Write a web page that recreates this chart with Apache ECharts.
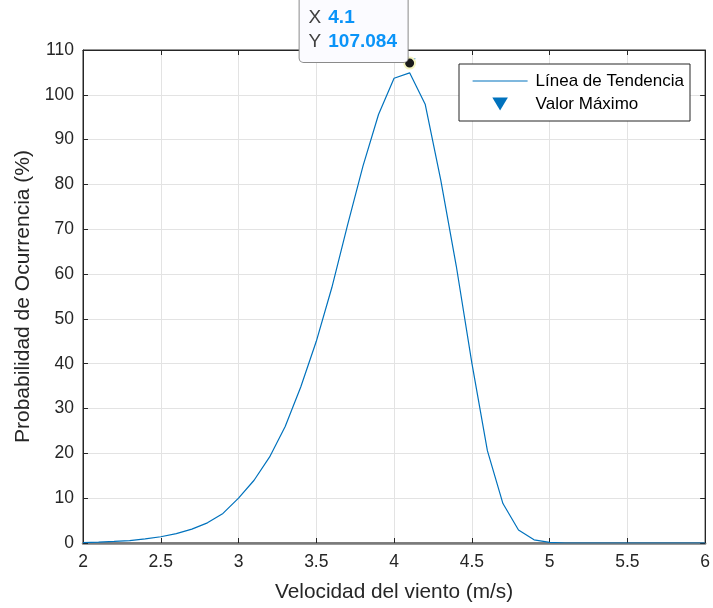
<!DOCTYPE html>
<html>
<head>
<meta charset="utf-8">
<script src="https://cdn.jsdelivr.net/npm/echarts@6/dist/echarts.min.js"></script>
<style>
html,body{margin:0;padding:0;background:#fff;}
#main{width:713px;height:608px;}
</style>
</head>
<body>
<div id="main"></div>
<script>
var speeds = [2.0,2.1,2.2,2.3,2.4,2.5,2.6,2.7,2.8,2.9,3.0,3.1,3.2,3.3,3.4,3.5,3.6,3.7,3.8,3.9,4.0,4.1,4.2,4.3,4.4,4.5,4.6,4.7,4.8,4.9,5.0,5.1,5.2,5.3,5.4,5.5,5.6,5.7,5.8,5.9,6.0];
var probs = [0.1,0.2,0.35,0.55,0.9,1.4,2.1,3.1,4.5,6.6,10.0,14.0,19.2,26.0,34.8,45.0,57.0,70.8,84.1,95.6,103.7,104.9,97.9,81.0,61.8,40.2,20.6,8.8,2.9,0.7,0.15,0,0,0,0,0,0,0,0,0,0];
var maxX = [4.1];
var maxY = [107.084];
var xTicks = [2,2.5,3,3.5,4,4.5,5,5.5,6];
var yTicks = [0,10,20,30,40,50,60,70,80,90,100,110];
var seriesNames = ['Línea de Tendencia','Valor Máximo'];
var xTitle = 'Velocidad del viento (m/s)';
var yTitle = 'Probabilidad de Ocurrencia (%)';

var FONT = '"Liberation Sans", Arial, sans-serif';
var TXT = '#262626';
var BLUE = '#0072BD';

var chart = echarts.init(document.getElementById('main'), null, {renderer:'canvas'});

var lineData = speeds.map(function(x,i){return [x, probs[i]];});
var maxData = maxX.map(function(x,i){return [x, maxY[i]];});

var tickInside = {show:true, inside:true, length:5, lineStyle:{color:TXT, width:1}};

var option = {
  backgroundColor:'#fff',
  animation:false,
  grid:{left:83, right:6, top:50, bottom:64, show:true, borderColor:TXT, borderWidth:1, backgroundColor:'transparent'},
  legend:{
    data:[{name:seriesNames[0], itemStyle:{opacity:0}},{name:seriesNames[1]}],
    orient:'vertical',
    left:459, top:64,
    itemWidth:55, itemHeight:13, itemGap:3,
    padding:[7,6,7,13],
    borderColor:TXT, borderWidth:1, backgroundColor:'#fff',
    lineStyle:{width:1.2},
    textStyle:{fontFamily:FONT, fontSize:17, color:'#000', padding:[0,0,0,3], lineHeight:20},
    selectedMode:false
  },
  xAxis:[{
    type:'value', min:2, max:6, interval:0.5,
    name:xTitle, nameLocation:'middle', nameGap:39,
    nameTextStyle:{fontFamily:FONT, fontSize:20.8, color:TXT},
    axisLine:{show:true, onZero:false, lineStyle:{color:'#7a7a7a', width:2.5}},
    axisTick:tickInside,
    axisLabel:{fontFamily:FONT, fontSize:17.5, color:TXT, margin:10, formatter:function(v){return String(v);}},
    splitLine:{show:true, lineStyle:{color:'#e3e3e3', width:1}}
  },{
    type:'value', min:2, max:6, interval:0.5, position:'top',
    axisLine:{show:true, onZero:false, lineStyle:{color:TXT, width:1}},
    axisTick:tickInside, axisLabel:{show:false}, splitLine:{show:false}
  }],
  yAxis:[{
    type:'value', min:0, max:110, interval:10,
    name:yTitle, nameLocation:'middle', nameGap:47, nameRotate:90,
    nameTextStyle:{fontFamily:FONT, fontSize:21, color:TXT},
    axisLine:{show:true, onZero:false, lineStyle:{color:TXT, width:1}},
    axisTick:tickInside,
    axisLabel:{fontFamily:FONT, fontSize:17.5, color:TXT, margin:9},
    splitLine:{show:true, lineStyle:{color:'#e3e3e3', width:1}}
  },{
    type:'value', min:0, max:110, interval:10, position:'right',
    axisLine:{show:true, onZero:false, lineStyle:{color:TXT, width:1}},
    axisTick:tickInside, axisLabel:{show:false}, splitLine:{show:false}
  }],
  series:[{
    name:seriesNames[0],
    type:'line',
    data:lineData,
    symbol:'none',
    showSymbol:false,
    lineStyle:{color:BLUE, width:1.2},
    itemStyle:{color:BLUE},
    z:3
  },{
    name:seriesNames[1],
    type:'scatter',
    data:maxData,
    symbol:'path://M0,0 L12,0 L6,10 Z',
    symbolKeepAspect:true,
    symbolSize:[12,11],
    itemStyle:{color:BLUE, opacity:1},
    z:4,
    markPoint:{
      symbol:'circle',
      symbolSize:11,
      itemStyle:{color:'#1a1a1a', borderColor:'#f4f4c0', borderWidth:2, opacity:1},
      data:[{
        coord:[maxX[0], maxY[0]],
        label:{
          show:true,
          position:[-103.5, 5.5],
          align:'left',
          verticalAlign:'bottom',
          formatter:function(){return '{k|X}{v|'+maxX[0]+'}\n{k|Y}{v|'+maxY[0]+'}';},
          backgroundColor:'#fbfbff',
          borderColor:'#8a8a8a',
          borderWidth:1,
          borderRadius:4,
          width:87,
          padding:[10,12,8,9],
          lineHeight:24,
          rich:{
            k:{fontFamily:FONT, fontSize:19, color:'#404040', lineHeight:24},
            v:{fontFamily:FONT, fontSize:19, color:'#0a94f8', fontWeight:'bold', lineHeight:24, padding:[0,0,0,7]}
          }
        }
      }]
    }
  }]
};
chart.setOption(option);
</script>
</body>
</html>
